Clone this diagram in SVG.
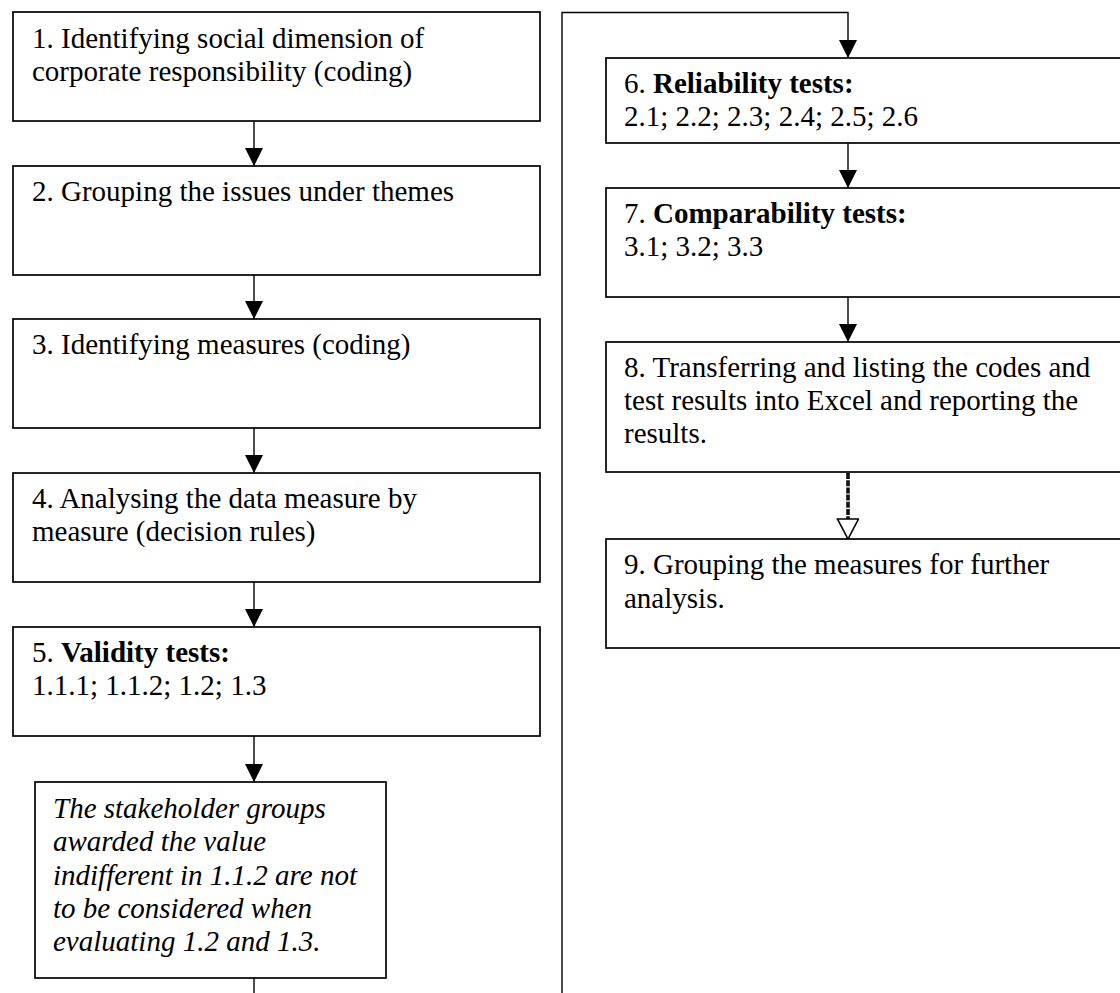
<svg xmlns="http://www.w3.org/2000/svg" width="1120" height="993" viewBox="0 0 1120 993">
  <style>
    .box { fill: #fff; stroke: #000; stroke-width: 1.7; }
    .t { font-family: "Liberation Serif", "Times New Roman", serif; font-size: 29px; fill: #000; }
    .it { font-style: italic; }
    .b { font-weight: bold; }
    .wire { fill: none; stroke: #000; stroke-width: 1.4; }
    .thick { fill: none; stroke: #111; stroke-width: 3.6; stroke-dasharray: 6 1.2; }
  </style>
  <defs>
    <marker id="arrow" markerUnits="userSpaceOnUse" markerWidth="20" markerHeight="20" refX="18" refY="9" orient="auto">
      <path d="M0,0 L18,9 L0,18 Z" fill="#000"/>
    </marker>
    <marker id="hollow" markerUnits="userSpaceOnUse" markerWidth="26" markerHeight="26" refX="21" refY="11" orient="auto">
      <path d="M1,0.5 L21,11 L1,21.5 Z" fill="#fff" stroke="#000" stroke-width="1.6"/>
    </marker>
  </defs>

  <rect width="1120" height="993" fill="#fff"/>

  <!-- connectors -->
  <g id="connectors">
    <line class="wire" x1="254" y1="121" x2="254" y2="166" marker-end="url(#arrow)"/>
    <line class="wire" x1="254" y1="275" x2="254" y2="319" marker-end="url(#arrow)"/>
    <line class="wire" x1="254" y1="428" x2="254" y2="473" marker-end="url(#arrow)"/>
    <line class="wire" x1="254" y1="582" x2="254" y2="627" marker-end="url(#arrow)"/>
    <line class="wire" x1="254" y1="736" x2="254" y2="782" marker-end="url(#arrow)"/>
    <line class="wire" x1="254" y1="978" x2="254" y2="993"/>
    <polyline class="wire" points="562,993 562,12.5 848,12.5 848,58" marker-end="url(#arrow)"/>
    <line class="wire" x1="848" y1="143" x2="848" y2="188" marker-end="url(#arrow)"/>
    <line class="wire" x1="848" y1="297" x2="848" y2="342" marker-end="url(#arrow)"/>
    <line class="thick" x1="848" y1="473" x2="848" y2="539" marker-end="url(#hollow)"/>
  </g>

  <g id="n1">
    <rect class="box" x="13" y="12" width="527" height="109"/>
    <text class="t" x="32" y="48">1. Identifying social dimension of</text>
    <text class="t" x="32" y="81">corporate responsibility (coding)</text>
  </g>
  <g id="n2">
    <rect class="box" x="13" y="166" width="527" height="109"/>
    <text class="t" x="32" y="201">2. Grouping the issues under themes</text>
  </g>
  <g id="n3">
    <rect class="box" x="13" y="319" width="527" height="109"/>
    <text class="t" x="32" y="354">3. Identifying measures (coding)</text>
  </g>
  <g id="n4">
    <rect class="box" x="13" y="473" width="527" height="109"/>
    <text class="t" x="32" y="508">4. Analysing the data measure by</text>
    <text class="t" x="32" y="541">measure (decision rules)</text>
  </g>
  <g id="n5">
    <rect class="box" x="13" y="627" width="527" height="109"/>
    <text class="t" x="32" y="662">5. <tspan class="b">Validity tests:</tspan></text>
    <text class="t" x="32" y="695">1.1.1; 1.1.2; 1.2; 1.3</text>
  </g>
  <g id="note">
    <rect class="box" x="35" y="782" width="351" height="196"/>
    <text class="t it" x="53" y="818">The stakeholder groups</text>
    <text class="t it" x="53" y="851">awarded the value</text>
    <text class="t it" x="53" y="885">indifferent in 1.1.2 are not</text>
    <text class="t it" x="53" y="918">to be considered when</text>
    <text class="t it" x="53" y="951">evaluating 1.2 and 1.3.</text>
  </g>
  <g id="n6">
    <rect class="box" x="606" y="58" width="527" height="85"/>
    <text class="t" x="624" y="93">6. <tspan class="b">Reliability tests:</tspan></text>
    <text class="t" x="624" y="126">2.1; 2.2; 2.3; 2.4; 2.5; 2.6</text>
  </g>
  <g id="n7">
    <rect class="box" x="606" y="188" width="527" height="109"/>
    <text class="t" x="624" y="223">7. <tspan class="b">Comparability tests:</tspan></text>
    <text class="t" x="624" y="256">3.1; 3.2; 3.3</text>
  </g>
  <g id="n8">
    <rect class="box" x="606" y="342" width="527" height="130"/>
    <text class="t" x="624" y="377">8. Transferring and listing the codes and</text>
    <text class="t" x="624" y="410">test results into Excel and reporting the</text>
    <text class="t" x="624" y="443">results.</text>
  </g>
  <g id="n9">
    <rect class="box" x="606" y="539" width="527" height="109"/>
    <text class="t" x="624" y="574">9. Grouping the measures for further</text>
    <text class="t" x="624" y="608">analysis.</text>
  </g>
</svg>
